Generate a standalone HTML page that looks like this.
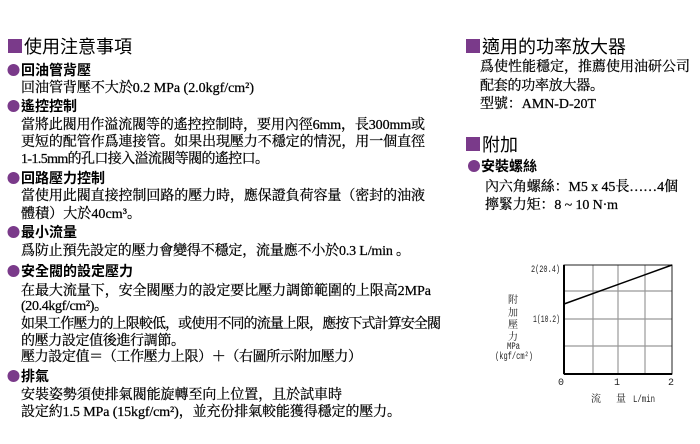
<!DOCTYPE html>
<html><head><meta charset="utf-8"><style>
html,body{margin:0;padding:0;background:#fff;width:700px;height:444px;overflow:hidden}
svg{display:block}
.h{font-family:"Liberation Sans","Noto Sans CJK TC",sans-serif;fill:#000}
.b{font-family:"Liberation Serif","Noto Serif CJK SC",serif;fill:#000;font-size:14px;stroke:#000;stroke-width:0.25}
.s{font-family:"Liberation Mono","Noto Serif CJK SC",monospace;fill:#222;font-size:10px}
</style></head><body>
<svg width="700" height="444" viewBox="0 0 700 444" xmlns="http://www.w3.org/2000/svg">
<g fill="#7a3a8a">
<rect x="8" y="39" width="14" height="14"/>
<circle cx="13.5" cy="70" r="6"/>
<circle cx="13.5" cy="106" r="6"/>
<circle cx="13.5" cy="178" r="6"/>
<circle cx="13.5" cy="232" r="6"/>
<circle cx="13.5" cy="271" r="6"/>
<circle cx="13.5" cy="376" r="6"/>
<rect x="466" y="39" width="14" height="14"/>
<rect x="466" y="137" width="14" height="14"/>
<circle cx="474" cy="166" r="6"/>
</g>
<text class="h" x="24" y="53" font-size="18">使用注意事項</text>
<text class="h" x="21" y="75" font-size="14" font-weight="bold">回油管背壓</text>
<text class="b" x="21" y="92" textLength="233" lengthAdjust="spacing">回油管背壓不大於0.2 MPa (2.0kgf/cm²)</text>
<text class="h" x="21" y="111" font-size="14" font-weight="bold">遙控控制</text>
<text class="b" x="21" y="129" textLength="404" lengthAdjust="spacing">當將此閥用作溢流閥等的遙控控制時，要用內徑6mm，長300mm或</text>
<text class="b" x="21" y="146" textLength="404" lengthAdjust="spacing">更短的配管作爲連接管。如果出現壓力不穩定的情況，用一個直徑</text>
<text class="b" x="21" y="163" textLength="248" lengthAdjust="spacing">1-1.5mm的孔口接入溢流閥等閥的遙控口。</text>
<text class="h" x="21" y="183" font-size="14" font-weight="bold">回路壓力控制</text>
<text class="b" x="21" y="200" textLength="404" lengthAdjust="spacing">當使用此閥直接控制回路的壓力時，應保證負荷容量（密封的油液</text>
<text class="b" x="21" y="218" textLength="120" lengthAdjust="spacing">體積）大於40cm³。</text>
<text class="h" x="21" y="237" font-size="14" font-weight="bold">最小流量</text>
<text class="b" x="21" y="255" textLength="389" lengthAdjust="spacing">爲防止預先設定的壓力會變得不穩定，流量應不小於0.3 L/min 。</text>
<text class="h" x="21" y="276" font-size="14" font-weight="bold">安全閥的設定壓力</text>
<text class="b" x="21" y="295" textLength="410" lengthAdjust="spacing">在最大流量下，安全閥壓力的設定要比壓力調節範圍的上限高2MPa</text>
<text class="b" x="21" y="310" textLength="87" lengthAdjust="spacing">(20.4kgf/cm²)。</text>
<text class="b" x="21" y="328" textLength="420" lengthAdjust="spacing">如果工作壓力的上限較低，或使用不同的流量上限，應按下式計算安全閥</text>
<text class="b" x="21" y="345" textLength="164" lengthAdjust="spacing">的壓力設定值後進行調節。</text>
<text class="b" x="21" y="361" textLength="341" lengthAdjust="spacing">壓力設定值＝（工作壓力上限）＋（右圖所示附加壓力）</text>
<text class="h" x="21" y="381" font-size="14" font-weight="bold">排氣</text>
<text class="b" x="21" y="399" textLength="321" lengthAdjust="spacing">安裝姿勢須使排氣閥能旋轉至向上位置，且於試車時</text>
<text class="b" x="21" y="416" textLength="380" lengthAdjust="spacing">設定約1.5 MPa (15kgf/cm²)，並充份排氣較能獲得穩定的壓力。</text>

<text class="h" x="482" y="53" font-size="18">適用的功率放大器</text>
<text class="b" x="480" y="71" textLength="210" lengthAdjust="spacing">爲使性能穩定，推薦使用油研公司</text>
<text class="b" x="480" y="90" textLength="124" lengthAdjust="spacing">配套的功率放大器。</text>
<text class="b" x="480" y="108" textLength="116" lengthAdjust="spacing">型號：AMN-D-20T</text>
<text class="h" x="482" y="151" font-size="18">附加</text>
<text class="h" x="481" y="171" font-size="14" font-weight="bold">安裝螺絲</text>
<text class="b" x="485" y="191" textLength="193" lengthAdjust="spacing">內六角螺絲：M5 x 45長……4個</text>
<text class="b" x="485" y="209" textLength="133" lengthAdjust="spacing">擰緊力矩：8 ~ 10 N·m</text>

<g stroke="#999" stroke-width="1.2">
<line x1="593" y1="265" x2="593" y2="374"/>
<line x1="618" y1="265" x2="618" y2="374"/>
<line x1="645" y1="265" x2="645" y2="374"/>
<line x1="564" y1="291" x2="672" y2="291"/>
<line x1="564" y1="319" x2="672" y2="319"/>
<line x1="564" y1="346" x2="672" y2="346"/>
</g>
<rect x="564" y="265" width="108" height="109" fill="none" stroke="#222" stroke-width="1"/>
<line x1="564" y1="265" x2="564" y2="374" stroke="#000" stroke-width="2"/>
<line x1="564" y1="374" x2="672" y2="374" stroke="#000" stroke-width="2"/>
<line x1="564" y1="304" x2="672" y2="265" stroke="#000" stroke-width="1.5"/>
<text class="s" x="531" y="272" font-size="8" textLength="29" lengthAdjust="spacingAndGlyphs">2(20.4)</text>
<text class="s" x="533" y="322" font-size="8" textLength="27" lengthAdjust="spacingAndGlyphs">1(10.2)</text>
<text class="s" x="513" y="303" text-anchor="middle">附</text>
<text class="s" x="513" y="316" text-anchor="middle">加</text>
<text class="s" x="513" y="328" text-anchor="middle">壓</text>
<text class="s" x="513" y="340" text-anchor="middle">力</text>
<text class="s" x="507" y="349" font-size="8" textLength="13" lengthAdjust="spacingAndGlyphs">MPa</text>
<text class="s" x="495" y="359" font-size="8" textLength="38" lengthAdjust="spacingAndGlyphs">(kgf/cm²)</text>
<text class="s" x="561" y="385" text-anchor="middle" font-size="8">0</text>
<text class="s" x="617" y="385" text-anchor="middle" font-size="8">1</text>
<text class="s" x="671" y="385" text-anchor="middle" font-size="8">2</text>
<text class="s" x="591" y="402" font-size="9">流</text>
<text class="s" x="616" y="402" font-size="9">量</text>
<text class="s" x="633" y="402" font-size="8" textLength="22" lengthAdjust="spacingAndGlyphs">L/min</text>
</svg>
</body></html>
